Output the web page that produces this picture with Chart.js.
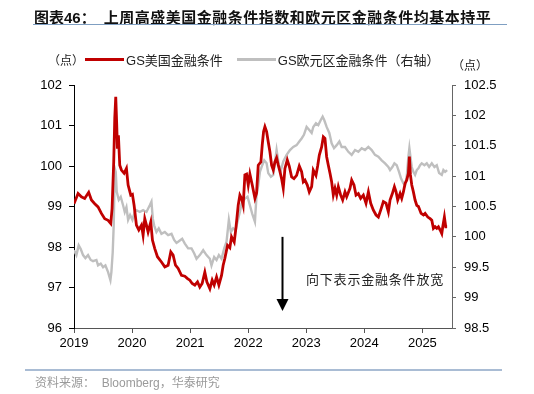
<!DOCTYPE html>
<html>
<head>
<meta charset="utf-8">
<script src="https://cdn.jsdelivr.net/npm/chart.js@4.4.1/dist/chart.umd.min.js"></script>
<style>
  body { margin: 0; background: #fff; }
  #page { position: relative; width: 534px; height: 394px; overflow: hidden; font-family: "Liberation Sans", Arial, "Noto Sans CJK SC", sans-serif; }
  #chart { position: absolute; left: 0; top: 0; }
  .title { position: absolute; left: 34px; top: 6px; font-size: 15px; font-weight: bold; color: #111; white-space: nowrap; font-family: "Liberation Sans", "Noto Sans CJK SC", sans-serif; }
  .title .main { margin-left: 8px; letter-spacing: 0.5px; }
  .rule { position: absolute; height: 1px; }
  .legend { position: absolute; top: 50px; left: 48px; font-size: 13px; color: #222; white-space: nowrap; display: flex; align-items: center; }
  .legend .swatch { display: inline-block; width: 39px; height: 3px; margin: 0 2px 0 1px; }
  .unit { position: absolute; font-size: 12px; color: #222; font-family: "Noto Sans CJK SC", sans-serif; }
  .note { position: absolute; left: 306px; top: 269px; font-size: 13px; color: #222; letter-spacing: 0.8px; font-family: "Noto Sans CJK SC", sans-serif; white-space: nowrap; }
  .source { position: absolute; left: 35px; top: 373px; font-size: 12px; color: #9a9a9a; white-space: nowrap; }
</style>
</head>
<body>
<div id="page">
  <canvas id="chart" width="534" height="394"></canvas>
  <div class="title">图表46：<span class="main">上周高盛美国金融条件指数和欧元区金融条件均基本持平</span></div>
  <div class="rule" style="left:33px; top:24px; width:474px; background:#7f9fc2;"></div>
  <div class="legend">
    <span class="unit" style="position:static;">（点）</span>
    <span class="swatch" style="background:#c00000;"></span>
    <span>GS美国金融条件</span>
    <span class="swatch" style="background:#bfbfbf; margin-left:14px;"></span>
    <span>GS欧元区金融条件（右轴）</span>
  </div>
  <div class="unit" style="left:452px; top:56px;">（点）</div>
  <div class="note">向下表示金融条件放宽</div>
  <div class="rule" style="left:25px; top:369px; width:477px; height:2px; background:#a9bcd4;"></div>
  <div class="source">资料来源：&nbsp;&nbsp;Bloomberg，华泰研究</div>
</div>
<script>
// GS US financial conditions index (left axis)
const usDates = [
  2019.000, 2019.070, 2019.127, 2019.184, 2019.253, 2019.300, 2019.357, 2019.414, 2019.472, 2019.529,
  2019.587, 2019.633, 2019.656, 2019.684, 2019.702, 2019.719, 2019.736, 2019.748, 2019.765, 2019.788,
  2019.817, 2019.863, 2019.903, 2019.932, 2019.978, 2020.006, 2020.035, 2020.075, 2020.116, 2020.162,
  2020.190, 2020.219, 2020.248, 2020.276, 2020.322, 2020.351, 2020.391, 2020.437, 2020.506, 2020.564,
  2020.621, 2020.667, 2020.707, 2020.748, 2020.794, 2020.851, 2020.909, 2020.955, 2020.995, 2021.035,
  2021.081, 2021.127, 2021.167, 2021.207, 2021.253, 2021.288, 2021.340, 2021.380, 2021.414, 2021.455,
  2021.495, 2021.541, 2021.569, 2021.598, 2021.644, 2021.684, 2021.713, 2021.759, 2021.788, 2021.828,
  2021.857, 2021.886, 2021.914, 2021.943, 2021.972, 2022.001, 2022.029, 2022.070, 2022.116, 2022.144,
  2022.173, 2022.219, 2022.242, 2022.265, 2022.288, 2022.317, 2022.345, 2022.374, 2022.403, 2022.432,
  2022.460, 2022.489, 2022.518, 2022.547, 2022.575, 2022.604, 2022.633, 2022.673, 2022.707, 2022.748,
  2022.788, 2022.834, 2022.880, 2022.920, 2022.949, 2022.978, 2023.018, 2023.052, 2023.093, 2023.121,
  2023.167, 2023.196, 2023.225, 2023.265, 2023.294, 2023.322, 2023.351, 2023.380, 2023.409, 2023.437,
  2023.466, 2023.495, 2023.524, 2023.552, 2023.593, 2023.627, 2023.667, 2023.696, 2023.753, 2023.782,
  2023.822, 2023.857, 2023.897, 2023.937, 2023.983, 2024.029, 2024.070, 2024.110, 2024.156, 2024.202,
  2024.242, 2024.282, 2024.328, 2024.374, 2024.414, 2024.443, 2024.483, 2024.518, 2024.547, 2024.575,
  2024.616, 2024.644, 2024.673, 2024.702, 2024.730, 2024.759, 2024.776, 2024.794, 2024.817, 2024.845,
  2024.874, 2024.903, 2024.932, 2024.978, 2025.018, 2025.047, 2025.093, 2025.133, 2025.162, 2025.190,
  2025.219, 2025.248, 2025.276, 2025.305, 2025.334, 2025.351, 2025.379, 2025.402, 2025.426
];
const usFci = [
  99.07, 99.32, 99.24, 99.20, 99.35, 99.16, 99.07, 98.99, 98.83, 98.70,
  98.66, 98.58, 98.95, 100.10, 101.18, 101.71, 101.01, 100.43, 100.76, 100.02,
  99.90, 99.82, 99.94, 99.53, 99.28, 99.30, 99.03, 98.54, 98.42, 98.54,
  98.29, 98.70, 98.54, 98.37, 98.62, 98.17, 97.96, 97.76, 97.63, 97.51,
  97.55, 97.88, 97.80, 97.55, 97.47, 97.30, 97.28, 97.22, 97.18, 97.10,
  97.06, 97.14, 97.01, 97.10, 97.38, 97.14, 96.97, 97.18, 97.06, 97.26,
  97.06, 97.30, 97.55, 97.72, 98.04, 97.98, 98.25, 98.12, 98.46, 99.03,
  99.28, 99.20, 99.03, 99.78, 99.80, 99.53, 99.80, 99.53, 99.20, 99.33,
  100.02, 100.10, 100.52, 100.85, 100.97, 100.85, 100.60, 100.35, 100.02, 99.90,
  100.10, 100.20, 100.02, 99.86, 99.69, 99.45, 99.94, 100.15, 100.00, 99.73,
  99.69, 99.77, 100.00, 99.86, 99.61, 99.65, 99.53, 99.36, 99.49, 99.90,
  99.77, 100.00, 100.27, 100.47, 100.72, 100.68, 100.23, 100.02, 99.82, 99.61,
  99.28, 99.45, 99.28, 99.49, 99.28, 99.16, 99.36, 99.24, 99.45, 99.65,
  99.53, 99.28, 99.32, 99.20, 99.28, 99.08, 99.36, 99.08, 98.91, 98.79,
  98.74, 98.91, 99.12, 99.08, 98.87, 99.16, 99.32, 99.49, 99.36, 99.16,
  99.32, 99.20, 99.36, 99.57, 99.65, 99.82, 100.23, 99.78, 99.53, 99.36,
  99.16, 99.03, 99.00, 98.83, 98.79, 98.83, 98.74, 98.70, 98.66, 98.46,
  98.50, 98.46, 98.50, 98.42, 98.33, 98.50, 98.74, 98.50, 98.50
];

// GS euro area financial conditions index (right axis)
const euDates = [
  2019.000, 2019.041, 2019.081, 2019.116, 2019.156, 2019.196, 2019.242, 2019.288, 2019.328, 2019.386,
  2019.414, 2019.460, 2019.501, 2019.541, 2019.587, 2019.627, 2019.644, 2019.667, 2019.684, 2019.702,
  2019.719, 2019.736, 2019.771, 2019.805, 2019.845, 2019.874, 2019.903, 2019.932, 2019.966, 2020.006,
  2020.047, 2020.075, 2020.133, 2020.190, 2020.248, 2020.305, 2020.334, 2020.357, 2020.380, 2020.420,
  2020.460, 2020.506, 2020.564, 2020.621, 2020.679, 2020.725, 2020.765, 2020.794, 2020.863, 2020.909,
  2020.966, 2021.024, 2021.069, 2021.110, 2021.167, 2021.225, 2021.282, 2021.340, 2021.368, 2021.414,
  2021.455, 2021.495, 2021.541, 2021.587, 2021.627, 2021.667, 2021.702, 2021.742, 2021.782, 2021.828,
  2021.857, 2021.886, 2021.943, 2021.989, 2022.029, 2022.070, 2022.116, 2022.144, 2022.173, 2022.202,
  2022.242, 2022.276, 2022.317, 2022.345, 2022.391, 2022.432, 2022.489, 2022.529, 2022.564, 2022.604,
  2022.662, 2022.719, 2022.776, 2022.834, 2022.880, 2022.920, 2022.960, 2023.006, 2023.052, 2023.093,
  2023.121, 2023.167, 2023.207, 2023.248, 2023.282, 2023.311, 2023.351, 2023.397, 2023.437, 2023.478,
  2023.524, 2023.570, 2023.610, 2023.667, 2023.725, 2023.782, 2023.840, 2023.897, 2023.955, 2024.012,
  2024.070, 2024.127, 2024.184, 2024.242, 2024.299, 2024.357, 2024.414, 2024.443, 2024.483, 2024.518,
  2024.558, 2024.598, 2024.633, 2024.673, 2024.702, 2024.730, 2024.759, 2024.776, 2024.794, 2024.817,
  2024.845, 2024.874, 2024.903, 2024.932, 2024.960, 2024.989, 2025.035, 2025.075, 2025.116, 2025.162,
  2025.207, 2025.248, 2025.288, 2025.334, 2025.362, 2025.391, 2025.426
];
const euFci = [
  99.78, 99.70, 99.86, 99.80, 99.70, 99.65, 99.70, 99.62, 99.60, 99.62,
  99.53, 99.56, 99.50, 99.53, 99.42, 99.29, 99.42, 99.75, 100.19, 101.13,
  101.07, 100.74, 100.61, 100.66, 100.52, 100.41, 100.49, 100.28, 100.36, 100.28,
  100.41, 100.44, 100.41, 100.44, 100.41, 100.52, 100.58, 100.30, 100.19, 100.08,
  100.14, 100.05, 100.08, 100.03, 100.05, 99.95, 99.90, 99.92, 99.97, 99.89,
  99.81, 99.81, 99.73, 99.64, 99.70, 99.78, 99.70, 99.64, 99.53, 99.67,
  99.62, 99.70, 99.64, 99.81, 99.92, 100.28, 100.08, 100.14, 100.11, 100.30,
  100.41, 100.55, 100.63, 100.66, 100.52, 100.38, 100.25, 100.69, 100.85, 101.07,
  101.18, 101.26, 101.21, 101.05, 100.99, 101.02, 101.43, 101.18, 101.10, 101.24,
  101.35, 101.43, 101.48, 101.51, 101.57, 101.62, 101.68, 101.81, 101.76, 101.71,
  101.81, 101.87, 101.84, 101.92, 101.98, 101.92, 101.81, 101.71, 101.54, 101.46,
  101.51, 101.57, 101.48, 101.48, 101.40, 101.35, 101.43, 101.40, 101.46, 101.43,
  101.48, 101.43, 101.35, 101.32, 101.26, 101.21, 101.15, 101.10, 101.15, 101.21,
  101.18, 101.07, 100.96, 100.88, 100.85, 100.99, 101.32, 101.46, 101.32, 101.15,
  101.07, 101.02, 101.10, 101.13, 101.18, 101.21, 101.18, 101.21, 101.15, 101.21,
  101.15, 101.18, 101.05, 101.02, 101.10, 101.07, 101.10
];

const yearTicks = [2019, 2020, 2021, 2022, 2023, 2024, 2025];

// arrow annotation: x position and y span in data units (left axis)
const arrowAt = { x: 2022.58, from: 98.25, to: 96.42 };

Chart.defaults.font.family = '"Liberation Sans", Arial, sans-serif';
Chart.defaults.font.size = 13;
Chart.defaults.color = '#000';

const toPoints = (xs, ys) => xs.map((x, i) => ({ x: x, y: ys[i] }));

// draws the black down arrow
const arrowPlugin = {
  id: 'arrow',
  afterDatasetsDraw(chart) {
    const { ctx, scales } = chart;
    const x = Math.round(scales.x.getPixelForValue(arrowAt.x)) + 0.5;
    const y1 = scales.y.getPixelForValue(arrowAt.from);
    const y2 = scales.y.getPixelForValue(arrowAt.to);
    ctx.save();
    ctx.strokeStyle = '#000';
    ctx.fillStyle = '#000';
    ctx.lineWidth = 2;
    ctx.beginPath();
    ctx.moveTo(x, y1);
    ctx.lineTo(x, y2 - 10);
    ctx.stroke();
    ctx.beginPath();
    ctx.moveTo(x - 6, y2 - 12);
    ctx.lineTo(x + 6, y2 - 12);
    ctx.lineTo(x, y2);
    ctx.closePath();
    ctx.fill();
    ctx.restore();
  }
};

const ctx = document.getElementById('chart').getContext('2d');
new Chart(ctx, {
  type: 'line',
  data: {
    datasets: [
      { label: 'GS美国金融条件', data: toPoints(usDates, usFci), yAxisID: 'y', borderColor: '#c00000', borderWidth: 2.8, pointRadius: 0, tension: 0 },
      { label: 'GS欧元区金融条件（右轴）', data: toPoints(euDates, euFci), yAxisID: 'y1', borderColor: '#bfbfbf', borderWidth: 2.4, pointRadius: 0, tension: 0 }
    ]
  },
  options: {
    responsive: false,
    animation: false,
    devicePixelRatio: 1,
    layout: { padding: { left: 0, right: 0, top: 85, bottom: 36 } },
    plugins: { legend: { display: false }, tooltip: { enabled: false } },
    scales: {
      x: {
        type: 'linear', min: 2019, max: 2025.51,
        afterBuildTicks: (s) => { s.ticks = yearTicks.map(v => ({ value: v })); },
        afterFit: (s) => { s.height = 30; },
        ticks: { callback: (v) => String(v), padding: 3, maxRotation: 0, autoSkip: false },
        grid: { drawOnChartArea: false, tickLength: 5, color: '#555' },
        border: { color: '#555', width: 1 }
      },
      y: {
        position: 'left', min: 96, max: 102,
        afterFit: (s) => { s.width = 74; },
        ticks: { stepSize: 1, callback: (v) => String(v), padding: 7 },
        grid: { drawOnChartArea: false, tickLength: 5, color: '#000' },
        border: { color: '#000', width: 1 }
      },
      y1: {
        position: 'right', min: 98.5, max: 102.5,
        afterFit: (s) => { s.width = 82; },
        ticks: { stepSize: 0.5, callback: (v) => String(v), padding: 8 },
        grid: { drawOnChartArea: false, tickLength: 4, color: '#666' },
        border: { color: '#666', width: 1 }
      }
    }
  },
  plugins: [arrowPlugin]
});
</script>
</body>
</html>
